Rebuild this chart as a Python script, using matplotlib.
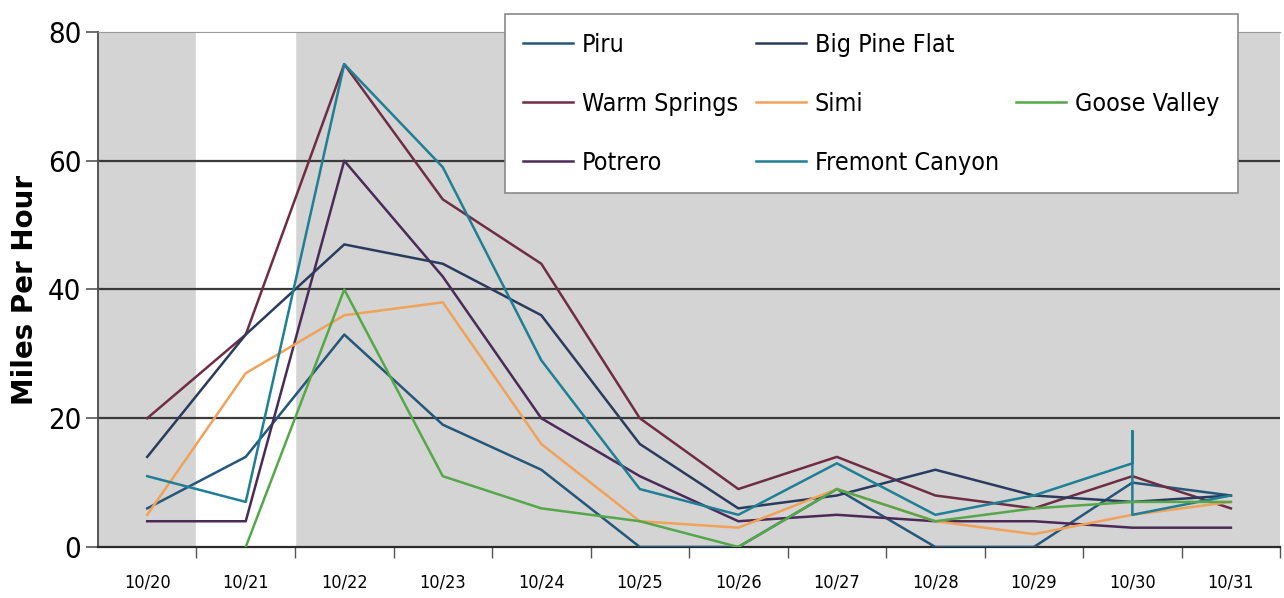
import numpy as np
import matplotlib.pyplot as plt
from matplotlib.lines import Line2D

dates = ["10/20", "10/21", "10/22", "10/23", "10/24", "10/25",
         "10/26", "10/27", "10/28", "10/29", "10/30", "10/31"]

piru          = [6, 14, 33, 19, 12, 0, 0, 9, 0, 0, 10, 8]
warm_springs  = [20, 33, 75, 54, 44, 20, 9, 14, 8, 6, 11, 6]
potrero       = [4, 4, 60, 42, 20, 11, 4, 5, 4, 4, 3, 3]
big_pine_flat = [14, 33, 47, 44, 36, 16, 6, 8, 12, 8, 7, 8]
simi          = [5, 27, 36, 38, 16, 4, 3, 9, 4, 2, 5, 7]
goose_valley  = [np.nan, 0, 40, 11, 6, 4, 0, 9, 4, 6, 7, 7]
# Fremont Canyon has three readings on 10/30 (the vertical spike)
fremont_idx   = [0, 1, 2, 3, 4, 5, 6, 7, 8, 9, 10, 10, 10, 11]
fremont       = [11, 7, 75, 59, 29, 9, 5, 13, 5, 8, 13, 18, 5, 8]

yticks = [0, 20, 40, 60, 80]

font = ['DejaVu Sans']

fig = plt.figure(figsize=(12.84, 5.98), dpi=100)
ax = fig.add_axes([0.0763, 0.0853, 0.9207, 0.8612])

ax.set_facecolor('#d4d4d4')
ax.axvspan(0.5, 1.5, color='white', zorder=0)   # white band for 10/21
for y in yticks[1:-1]:
    ax.axhline(y, color='#3a3a3a', lw=1.6, zorder=1)

x = np.arange(len(dates))
lw = 1.8
ax.plot(x, piru, color='#24577a', lw=lw, label='Piru', zorder=3)
ax.plot(x, warm_springs, color='#6e2d45', lw=lw, label='Warm Springs', zorder=3)
ax.plot(x, potrero, color='#4b2a58', lw=lw, label='Potrero', zorder=3)
ax.plot(x, big_pine_flat, color='#2a3c5e', lw=lw, label='Big Pine Flat', zorder=3)
ax.plot(x, simi, color='#f0a25a', lw=lw, label='Simi', zorder=3)
ax.plot(fremont_idx, fremont, color='#1f7f94', lw=lw, label='Fremont Canyon', zorder=3)
ax.plot(x, goose_valley, color='#55a84a', lw=lw, label='Goose Valley', zorder=3)

ax.set_xlim(-0.5, len(dates) - 0.5)
ax.set_ylim(0, 80)

ax.set_yticks(yticks)
ax.set_yticklabels([str(v) for v in yticks], family=font, fontsize=21,
                   fontstretch='condensed')
ax.tick_params(axis='y', length=9, width=1.2, color='#555555', pad=3)

ax.set_xticks(x)
ax.set_xticklabels(dates, family=font, fontsize=13, fontstretch='condensed')
ax.tick_params(axis='x', length=0, pad=19)
ax.set_xticks(np.arange(0.5, len(dates)), minor=True)
ax.tick_params(axis='x', which='minor', length=8, width=1, color='#555555')

ax.set_ylabel('Miles Per Hour', fontsize=20, fontweight='bold', labelpad=6)

ax.spines['right'].set_visible(False)
ax.spines['top'].set_color('#9a9a9a')
ax.spines['left'].set_color('#555555')
ax.spines['left'].set_linewidth(1.4)
ax.spines['bottom'].set_color('#2a2a2a')
ax.spines['bottom'].set_linewidth(1.6)

# legend: 3 columns, Goose Valley alone in the middle of the last column
h, l = ax.get_legend_handles_labels()
blank = Line2D([], [], color='none')
handles = h[:6] + [blank, h[6], blank]
labels = l[:6] + ['', l[6], '']
leg = ax.legend(handles, labels, ncol=3, loc='upper left',
                bbox_to_anchor=(0.344, 1.035), borderaxespad=0,
                frameon=True, fancybox=False, framealpha=1,
                prop={'family': font, 'size': 18, 'stretch': 'condensed'},
                handlelength=2.0, labelspacing=1.4, columnspacing=0.7,
                handletextpad=0.35, borderpad=0.75)
leg.get_frame().set_edgecolor('#8a8a8a')
leg.get_frame().set_facecolor('white')
leg.get_frame().set_linewidth(1.2)
leg.set_zorder(5)

plt.savefig('out.png', dpi=100)
